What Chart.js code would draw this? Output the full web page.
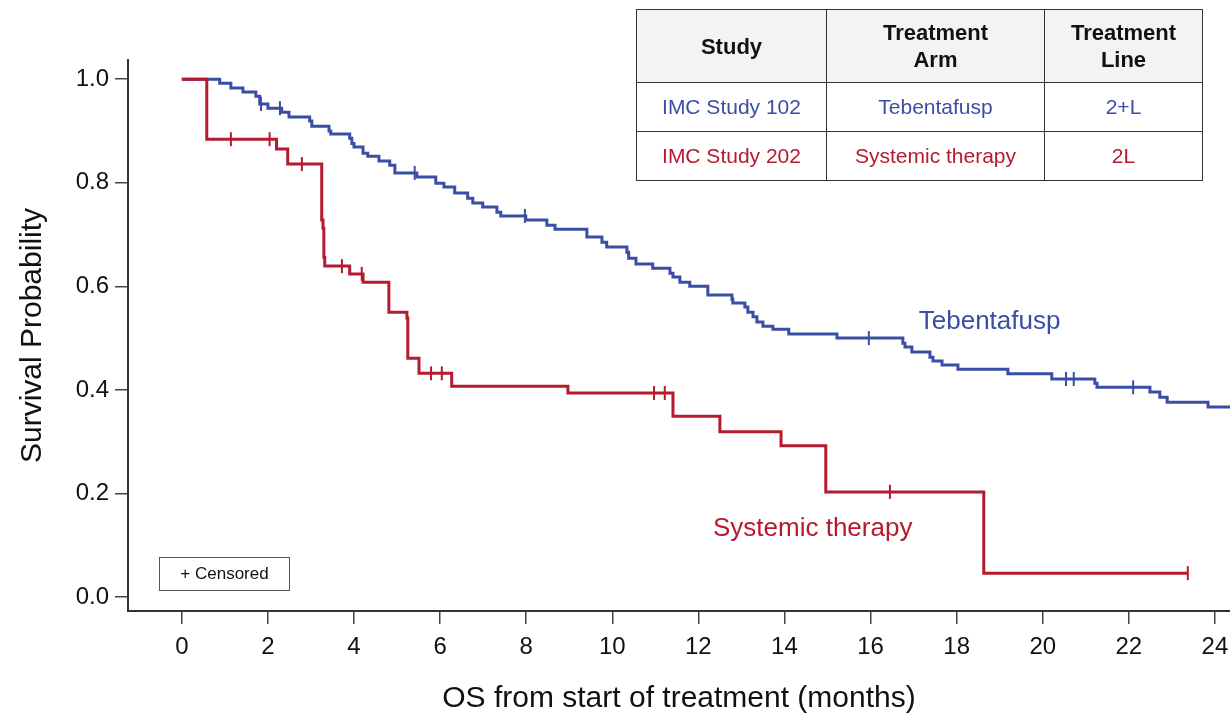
<!DOCTYPE html>
<html>
<head>
<meta charset="utf-8">
<script src="https://cdn.jsdelivr.net/npm/chart.js@4.4.0/dist/chart.umd.min.js"></script>
<style>
  body { margin: 0; background: #fff; font-family: "Liberation Sans", Arial, sans-serif; }
  #wrap { position: relative; width: 1230px; height: 714px; overflow: hidden; }
  #kmChart { position: absolute; left: 0; top: 0; }
  #studyTable {
    position: absolute; left: 636px; top: 9px; width: 566px;
    border-collapse: collapse; table-layout: fixed;
    font-family: "Liberation Sans", Arial, sans-serif;
  }
  #studyTable th, #studyTable td { border: 1.5px solid #333; text-align: center; padding: 0; }
  #studyTable th { background: #f3f3f3; font-size: 22px; font-weight: bold; color: #111; height: 72px; line-height: 27px; }
  #studyTable td { font-size: 21px; height: 48px; }
  .blue { color: #3a4ea6; }
  .red { color: #b51a2e; }
  #censorBox {
    position: absolute; left: 159px; top: 557px; width: 131px; height: 34px;
    border: 1px solid #555; box-sizing: border-box;
    font-size: 17px; line-height: 32px; text-align: center; color: #111;
  }
</style>
</head>
<body>
<div id="wrap">
  <canvas id="kmChart" width="1230" height="714"></canvas>
  <table id="studyTable">
    <colgroup><col style="width:190px"><col style="width:218px"><col style="width:158px"></colgroup>
    <tr><th>Study</th><th>Treatment<br>Arm</th><th>Treatment<br>Line</th></tr>
    <tr class="blue"><td>IMC Study 102</td><td>Tebentafusp</td><td>2+L</td></tr>
    <tr class="red"><td>IMC Study 202</td><td>Systemic therapy</td><td>2L</td></tr>
  </table>
  <div id="censorBox">+ Censored</div>
</div>
<script>
// ============================== DATA ==============================
const BLUE = '#3a4ea6';
const RED = '#b51a2e';

const xTicks = [0, 2, 4, 6, 8, 10, 12, 14, 16, 18, 20, 22, 24];
const yTicks = [0, 0.2, 0.4, 0.6, 0.8, 1.0];

// [month, survival after the event]
const tebentafuspSteps = [
  [0, 1.0], [0.88, 0.992], [1.14, 0.983], [1.42, 0.975], [1.72, 0.967], [1.81, 0.952],
  [2.00, 0.944], [2.32, 0.936], [2.49, 0.927], [2.97, 0.919], [3.02, 0.909], [3.42, 0.900],
  [3.46, 0.894], [3.90, 0.886], [3.95, 0.876], [4.00, 0.869], [4.21, 0.857], [4.32, 0.851],
  [4.58, 0.842], [4.83, 0.834], [4.95, 0.819], [5.46, 0.811], [5.90, 0.799], [6.09, 0.792],
  [6.34, 0.780], [6.64, 0.770], [6.76, 0.761], [6.99, 0.753], [7.32, 0.743], [7.41, 0.736],
  [7.99, 0.728], [8.48, 0.718], [8.67, 0.710], [9.41, 0.695], [9.76, 0.685], [9.87, 0.676],
  [10.34, 0.666], [10.38, 0.654], [10.55, 0.643], [10.94, 0.635], [11.34, 0.625], [11.41, 0.618],
  [11.57, 0.608], [11.80, 0.600], [12.22, 0.583], [12.78, 0.575], [12.80, 0.568], [13.08, 0.560],
  [13.15, 0.550], [13.27, 0.541], [13.36, 0.531], [13.50, 0.523], [13.73, 0.517], [14.10, 0.508],
  [15.22, 0.500], [16.75, 0.490], [16.80, 0.483], [16.96, 0.473], [17.38, 0.463], [17.45, 0.456],
  [17.66, 0.448], [18.03, 0.440], [19.19, 0.431], [20.21, 0.421], [21.21, 0.413], [21.26, 0.405],
  [22.49, 0.396], [22.72, 0.386], [22.89, 0.376], [23.84, 0.367], [24.35, 0.367]
];
const tebentafuspCensored = [1.84, 2.28, 5.41, 7.97, 15.96, 20.54, 20.72, 22.10];

const systemicSteps = [
  [0, 1.0], [0.58, 0.884], [2.20, 0.865], [2.46, 0.836], [3.25, 0.728], [3.28, 0.712],
  [3.30, 0.656], [3.32, 0.639], [3.90, 0.624], [4.21, 0.608], [4.81, 0.550], [5.23, 0.539],
  [5.25, 0.461], [5.51, 0.432], [6.27, 0.407], [8.97, 0.394], [11.41, 0.349], [12.50, 0.319],
  [13.92, 0.292], [14.96, 0.203], [18.63, 0.046], [23.37, 0.046]
];
const systemicCensored = [1.14, 2.04, 2.79, 3.72, 4.18, 5.79, 6.04, 10.97, 11.22, 16.45, 23.37];

const curveLabels = [
  { text: 'Tebentafusp', x: 17.12, y: 0.517, color: BLUE },
  { text: 'Systemic therapy', x: 12.34, y: 0.118, color: RED }
];

// survival level at time t (last step at or before t)
function survAt(steps, t) {
  let s = steps[0][1];
  for (const [time, val] of steps) {
    if (time <= t) s = val;
  }
  return s;
}

function stepLine(label, steps, color) {
  return {
    label: label,
    data: steps.map(([t, s]) => ({ x: t, y: s })),
    stepped: 'before',
    borderColor: color,
    borderWidth: 3,
    borderJoinStyle: 'miter',
    pointRadius: 0,
    fill: false
  };
}

function censorMarks(label, times, steps, color) {
  return {
    label: label,
    data: times.map(t => ({ x: t, y: survAt(steps, t) })),
    showLine: false,
    pointStyle: 'line',
    pointRotation: 90,
    pointRadius: 7,
    pointBorderColor: color,
    pointBorderWidth: 2
  };
}

// ============================== PLUGIN: curve labels ==============================
const curveLabelPlugin = {
  id: 'curveLabels',
  afterDatasetsDraw(chart) {
    const ctx = chart.ctx;
    const xs = chart.scales.x, ys = chart.scales.y;
    ctx.save();
    ctx.font = '26px "Liberation Sans", Arial, sans-serif';
    ctx.textAlign = 'left';
    ctx.textBaseline = 'alphabetic';
    curveLabels.forEach(l => {
      ctx.fillStyle = l.color;
      ctx.fillText(l.text, xs.getPixelForValue(l.x), ys.getPixelForValue(l.y));
    });
    ctx.restore();
  }
};

// ============================== CHART ==============================
const tickFont = { family: '"Liberation Sans", Arial, sans-serif', size: 24 };
const titleFont = { family: '"Liberation Sans", Arial, sans-serif', size: 30, lineHeight: 1 };

new Chart(document.getElementById('kmChart').getContext('2d'), {
  type: 'line',
  data: {
    datasets: [
      stepLine('Systemic therapy', systemicSteps, RED),
      censorMarks('Systemic censored', systemicCensored, systemicSteps, RED),
      stepLine('Tebentafusp', tebentafuspSteps, BLUE),
      censorMarks('Tebentafusp censored', tebentafuspCensored, tebentafuspSteps, BLUE)
    ]
  },
  options: {
    responsive: false,
    animation: false,
    layout: { autoPadding: false, padding: { top: 60, right: 0, left: 0, bottom: 0 } },
    plugins: { legend: { display: false }, tooltip: { enabled: false } },
    scales: {
      x: {
        type: 'linear',
        min: -1.25,
        max: 24.35,
        afterBuildTicks: s => { s.ticks = xTicks.map(v => ({ value: v })); },
        afterFit: s => { s.height = 103; s.paddingLeft = 0; s.paddingRight = 0; },
        ticks: { font: tickFont, color: '#111', padding: 9, maxRotation: 0 },
        grid: { drawOnChartArea: false, drawTicks: true, tickLength: 13, color: '#444', lineWidth: 1.5 },
        border: { color: '#333', width: 2 },
        title: { display: true, text: 'OS from start of treatment (months)', font: titleFont, color: '#111', padding: { top: 0, bottom: 0 } }
      },
      y: {
        min: -0.027,
        max: 1.037,
        afterBuildTicks: s => { s.ticks = yTicks.map(v => ({ value: v })); },
        afterFit: s => { s.width = 128; s.paddingTop = 0; s.paddingBottom = 0; },
        ticks: { font: tickFont, color: '#111', padding: 6, callback: v => v.toFixed(1) },
        grid: { drawOnChartArea: false, drawTicks: true, tickLength: 13, color: '#444', lineWidth: 1.5 },
        border: { color: '#333', width: 2 },
        title: { display: true, text: 'Survival Probability', font: titleFont, color: '#111', padding: { top: 18, bottom: 0 } }
      }
    }
  },
  plugins: [curveLabelPlugin]
});
</script>
</body>
</html>
